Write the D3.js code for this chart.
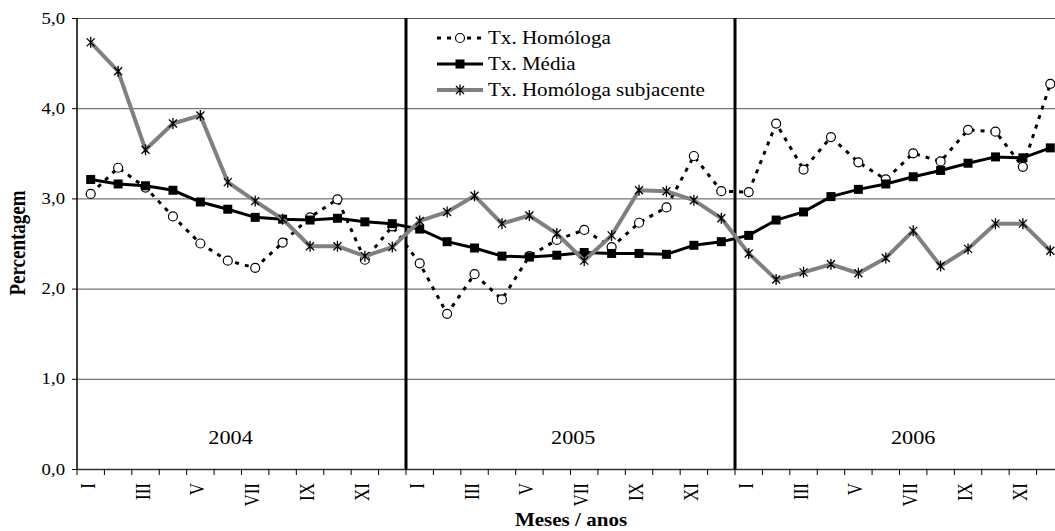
<!DOCTYPE html>
<html>
<head>
<meta charset="utf-8">
<script src="https://cdn.jsdelivr.net/npm/d3@7"></script>
<style>
  html, body { margin: 0; padding: 0; background: #fff; }
  svg { display: block; font-family: "Liberation Serif", "Times New Roman", serif; }
</style>
</head>
<body>
<div id="chart"></div>
<script>
// month labels (only odd ones are printed) and years
var months = ["I", "II", "III", "IV", "V", "VI", "VII", "VIII", "IX", "X", "XI", "XII"];
var years = ["2004", "2005", "2006"];
var yTicks = [0, 1, 2, 3, 4, 5];

// series values, Jan 2004 .. Dec 2006
var homologa = [3.05, 3.34, 3.12, 2.80, 2.50, 2.31, 2.23, 2.51, 2.79, 2.99, 2.32, 2.69,
                2.28, 1.72, 2.16, 1.88, 2.36, 2.54, 2.65, 2.46, 2.73, 2.90, 3.47, 3.08,
                3.07, 3.83, 3.32, 3.68, 3.40, 3.21, 3.50, 3.41, 3.76, 3.74, 3.35, 4.27];
var media = [3.21, 3.16, 3.14, 3.09, 2.96, 2.88, 2.79, 2.77, 2.76, 2.78, 2.74, 2.72,
             2.66, 2.52, 2.45, 2.36, 2.35, 2.37, 2.40, 2.39, 2.39, 2.38, 2.48, 2.52,
             2.59, 2.76, 2.85, 3.02, 3.10, 3.16, 3.24, 3.31, 3.39, 3.46, 3.45, 3.56];
var subjacente = [4.73, 4.41, 3.54, 3.83, 3.92, 3.18, 2.97, 2.77, 2.47, 2.47, 2.36, 2.46,
                  2.75, 2.85, 3.03, 2.72, 2.81, 2.61, 2.31, 2.59, 3.09, 3.08, 2.98, 2.78,
                  2.39, 2.10, 2.18, 2.27, 2.17, 2.34, 2.64, 2.25, 2.44, 2.72, 2.72, 2.42];

var seriesNames = ["Tx. Homóloga", "Tx. Média", "Tx. Homóloga subjacente"];

var width = 1055, height = 531;
var plotLeft = 77, plotRight = 1064, plotTop = 18, plotBottom = 469;
var stretch = 1.17; // text in the picture is a bit wider than tall

var cats = d3.range(years.length * months.length);

var x = d3.scaleBand().domain(cats).range([plotLeft, plotRight]);
var y = d3.scaleLinear().domain([0, 5]).range([plotBottom, plotTop]);

var svg = d3.select("#chart").append("svg")
    .attr("width", width)
    .attr("height", height);

function fmt(v) { return d3.format(".1f")(v).replace(".", ","); }

// gridlines
svg.append("g").selectAll("line")
    .data(yTicks.filter(function (d) { return d > 0; }))
    .enter().append("line")
    .attr("x1", plotLeft).attr("x2", plotRight)
    .attr("y1", function (d) { return y(d) + 0.5; })
    .attr("y2", function (d) { return y(d) + 0.5; })
    .attr("stroke", "#555")
    .attr("stroke-width", 1);

// y axis
svg.append("line")
    .attr("x1", plotLeft).attr("x2", plotLeft)
    .attr("y1", plotTop).attr("y2", plotBottom)
    .attr("stroke", "#000").attr("stroke-width", 1.5);

svg.append("g").selectAll("line")
    .data(yTicks).enter().append("line")
    .attr("x1", plotLeft - 5).attr("x2", plotLeft)
    .attr("y1", function (d) { return y(d) + 0.5; })
    .attr("y2", function (d) { return y(d) + 0.5; })
    .attr("stroke", "#000");

svg.append("g").selectAll("text")
    .data(yTicks).enter().append("text")
    .attr("transform", function (d) { return "translate(65," + (y(d) + 5.5) + ") scale(" + stretch + ",1)"; })
    .attr("text-anchor", "end")
    .attr("font-size", 16)
    .text(fmt);

// x axis
svg.append("line")
    .attr("x1", plotLeft).attr("x2", plotRight)
    .attr("y1", plotBottom + 0.5).attr("y2", plotBottom + 0.5)
    .attr("stroke", "#333").attr("stroke-width", 1.5);

svg.append("g").selectAll("line")
    .data(cats.concat([cats.length])).enter().append("line")
    .attr("x1", function (d) { return plotLeft + d * x.step(); })
    .attr("x2", function (d) { return plotLeft + d * x.step(); })
    .attr("y1", plotBottom).attr("y2", plotBottom + 6)
    .attr("stroke", "#000");

svg.append("g").selectAll("text")
    .data(cats.filter(function (d) { return d % 2 === 0; }))
    .enter().append("text")
    .attr("transform", function (d) {
        return "translate(" + (x(d) + x.bandwidth() / 2 + 4) + "," + (plotBottom + 14) + ") scale(" + stretch + ",1) rotate(-90)";
    })
    .attr("text-anchor", "end")
    .attr("font-size", 17)
    .text(function (d) { return months[d % 12]; });

// year separators
svg.append("g").selectAll("line")
    .data(years.slice(1)).enter().append("line")
    .attr("x1", function (d, i) { return x((i + 1) * 12); })
    .attr("x2", function (d, i) { return x((i + 1) * 12); })
    .attr("y1", plotTop).attr("y2", plotBottom)
    .attr("stroke", "#000").attr("stroke-width", 3);

// year labels (offset in months inside each year block)
var yearPos = [5.6, 6.1, 6.5];
svg.append("g").selectAll("text")
    .data(years).enter().append("text")
    .attr("transform", function (d, i) {
        return "translate(" + (plotLeft + (i * 12 + yearPos[i]) * x.step()) + ",444) scale(" + stretch + ",1)";
    })
    .attr("text-anchor", "middle")
    .attr("font-size", 19)
    .text(function (d) { return d; });

// axis titles
svg.append("text")
    .attr("transform", "translate(571,526) scale(" + stretch + ",1)")
    .attr("text-anchor", "middle")
    .attr("font-size", 18)
    .attr("font-weight", "bold")
    .text("Meses / anos");

svg.append("text")
    .attr("transform", "translate(25,243) scale(" + stretch + ",1) rotate(-90)")
    .attr("text-anchor", "middle")
    .attr("font-size", 19)
    .attr("font-weight", "bold")
    .text("Percentagem");

// lines
var line = d3.line()
    .x(function (d, i) { return x(i) + x.bandwidth() / 2; })
    .y(function (d) { return y(d); });

var starPath = "M-4,-4L4,4M-4,4L4,-4M0,-5.5L0,5.5";

function drawHomologa(g) {
    g.append("path").datum(homologa)
        .attr("d", line)
        .attr("fill", "none").attr("stroke", "#000")
        .attr("stroke-width", 3).attr("stroke-dasharray", "4,6");
    g.selectAll("circle").data(homologa).enter().append("circle")
        .attr("cx", function (d, i) { return x(i) + x.bandwidth() / 2; })
        .attr("cy", function (d) { return y(d); })
        .attr("r", 4.5)
        .attr("fill", "#fff").attr("stroke", "#000").attr("stroke-width", 1.2);
}

function drawMedia(g) {
    g.append("path").datum(media)
        .attr("d", line)
        .attr("fill", "none").attr("stroke", "#000")
        .attr("stroke-width", 3);
    g.selectAll("rect").data(media).enter().append("rect")
        .attr("x", function (d, i) { return x(i) + x.bandwidth() / 2 - 4.5; })
        .attr("y", function (d) { return y(d) - 4.5; })
        .attr("width", 9).attr("height", 9)
        .attr("fill", "#000");
}

function drawSubjacente(g) {
    g.append("path").datum(subjacente)
        .attr("d", line)
        .attr("fill", "none").attr("stroke", "#808080")
        .attr("stroke-width", 4);
    g.selectAll(".star").data(subjacente).enter().append("path")
        .attr("class", "star")
        .attr("transform", function (d, i) { return "translate(" + (x(i) + x.bandwidth() / 2) + "," + y(d) + ")"; })
        .attr("d", starPath)
        .attr("fill", "none").attr("stroke", "#000").attr("stroke-width", 1.3);
}

drawHomologa(svg.append("g"));
drawMedia(svg.append("g"));
drawSubjacente(svg.append("g"));

// legend
var legend = svg.append("g").attr("transform", "translate(437,0)");
var rowY = [38, 64, 90];

legend.append("line")
    .attr("x1", 0).attr("x2", 46).attr("y1", rowY[0]).attr("y2", rowY[0])
    .attr("stroke", "#000").attr("stroke-width", 3).attr("stroke-dasharray", "4,6");
legend.append("circle")
    .attr("cx", 23).attr("cy", rowY[0]).attr("r", 4.5)
    .attr("fill", "#fff").attr("stroke", "#000").attr("stroke-width", 1.2);

legend.append("line")
    .attr("x1", 0).attr("x2", 46).attr("y1", rowY[1]).attr("y2", rowY[1])
    .attr("stroke", "#000").attr("stroke-width", 3);
legend.append("rect")
    .attr("x", 18.5).attr("y", rowY[1] - 4.5).attr("width", 9).attr("height", 9)
    .attr("fill", "#000");

legend.append("line")
    .attr("x1", 0).attr("x2", 46).attr("y1", rowY[2]).attr("y2", rowY[2])
    .attr("stroke", "#808080").attr("stroke-width", 4);
legend.append("path")
    .attr("transform", "translate(23," + rowY[2] + ")")
    .attr("d", starPath)
    .attr("fill", "none").attr("stroke", "#000").attr("stroke-width", 1.3);

legend.selectAll("text").data(seriesNames).enter().append("text")
    .attr("transform", function (d, i) { return "translate(51," + (rowY[i] + 6) + ") scale(" + stretch + ",1)"; })
    .attr("font-size", 18)
    .text(function (d) { return d; });
</script>
</body>
</html>
